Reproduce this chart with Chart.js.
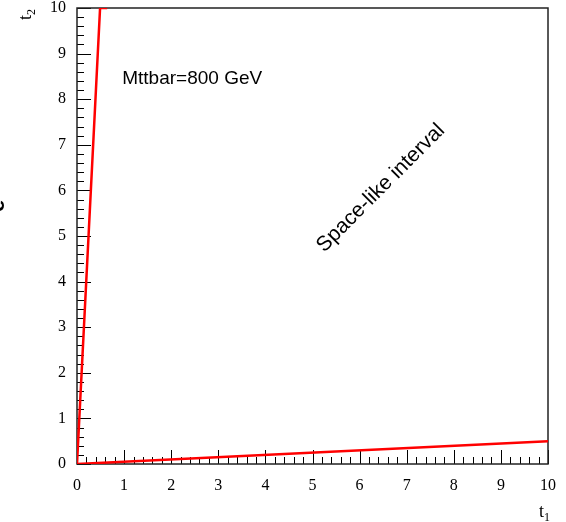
<!DOCTYPE html>
<html>
<head>
<meta charset="utf-8">
<script src="https://cdn.jsdelivr.net/npm/chart.js@4/dist/chart.umd.min.js"></script>
<style>
  html, body { margin: 0; padding: 0; background: #fff; }
  #wrap { width: 566px; height: 522px; }
</style>
</head>
<body>
<div id="wrap"><canvas id="c" width="566" height="522"></canvas></div>
<script>
// Axis range and tick spacing
const axisMin = 0;
const axisMax = 10;
const majorStep = 1;
const minorStep = 0.2;

// Steep boundary line (clamped at the top of the frame)
const steepT1 = [0, 0.49, 0.64];
const steepT2 = [0, 10, 10];

// Shallow boundary line
const shallowT1 = [0, 10];
const shallowT2 = [0, 0.5];

const toPoints = (xs, ys) => xs.map((v, i) => ({ x: v, y: ys[i] }));

const serif = '"Liberation Serif", "DejaVu Serif", serif';
const sans = '"Liberation Sans", Arial, sans-serif';

// Inward major/minor ticks plus the frame box
const frameTicks = {
  id: 'frameTicks',
  beforeDatasetsDraw(chart) {
    const { ctx, chartArea: a, scales: { x, y } } = chart;
    ctx.save();
    ctx.strokeStyle = '#000';
    ctx.lineWidth = 1;
    const n = Math.round((axisMax - axisMin) / minorStep);
    const per = Math.round(majorStep / minorStep);
    for (let i = 0; i <= n; i++) {
      const v = axisMin + i * minorStep;
      const len = (i % per === 0) ? 14 : 7;
      const px = Math.round(x.getPixelForValue(v)) + 0.5;
      ctx.beginPath(); ctx.moveTo(px, a.bottom); ctx.lineTo(px, a.bottom - len); ctx.stroke();
      const py = Math.round(y.getPixelForValue(v)) + 0.5;
      ctx.beginPath(); ctx.moveTo(a.left, py); ctx.lineTo(a.left + len, py); ctx.stroke();
    }
    ctx.lineWidth = 1.5;
    ctx.strokeStyle = '#222';
    ctx.strokeRect(a.left, a.top, a.right - a.left, a.bottom - a.top);
    ctx.restore();
  }
};

// Axis titles with subscripts and the text notes inside the frame
const labelsPlugin = {
  id: 'labelsPlugin',
  afterDraw(chart) {
    const { ctx, chartArea: a, scales: { x, y } } = chart;
    ctx.save();
    ctx.fillStyle = '#000';

    // x title: t1 at the right end of the axis
    ctx.font = '18px ' + serif;
    ctx.textBaseline = 'alphabetic';
    ctx.textAlign = 'left';
    const tW = ctx.measureText('t').width;
    ctx.fillText('t', a.right - 9, 517);
    ctx.font = '12px ' + serif;
    ctx.fillText('1', a.right - 9 + tW, 521);

    // y title: t2 at the top end of the axis, rotated
    ctx.save();
    ctx.translate(31, 20);
    ctx.rotate(-Math.PI / 2);
    ctx.font = '18px ' + serif;
    ctx.fillText('t', 0, 0);
    ctx.font = '12px ' + serif;
    ctx.fillText('2', tW, 4);
    ctx.restore();

    // clipped glyph at the far left edge
    ctx.save();
    ctx.translate(4, 206);
    ctx.rotate(-Math.PI / 2);
    ctx.font = 'bold 22px ' + sans;
    ctx.textAlign = 'center';
    ctx.fillText('e', 0, 0);
    ctx.restore();

    // notes
    ctx.font = '19px ' + sans;
    ctx.textAlign = 'left';
    ctx.textBaseline = 'alphabetic';
    ctx.fillText('Mttbar=800 GeV', x.getPixelForValue(0.96), y.getPixelForValue(8.33));

    ctx.save();
    ctx.font = '21px ' + sans;
    ctx.translate(x.getPixelForValue(6.45), y.getPixelForValue(6.05));
    ctx.rotate(-Math.PI / 4);
    ctx.textAlign = 'center';
    ctx.textBaseline = 'middle';
    ctx.fillText('Space-like interval', 0, 0);
    ctx.restore();

    ctx.restore();
  }
};

const tickFont = { family: serif, size: 16, lineHeight: 1 };

new Chart(document.getElementById('c'), {
  type: 'scatter',
  data: {
    datasets: [
      {
        data: toPoints(steepT1, steepT2),
        showLine: true,
        borderColor: '#ff0000',
        borderWidth: 2.5,
        pointRadius: 0,
        tension: 0
      },
      {
        data: toPoints(shallowT1, shallowT2),
        showLine: true,
        borderColor: '#ff0000',
        borderWidth: 2.5,
        pointRadius: 0,
        tension: 0
      }
    ]
  },
  options: {
    responsive: false,
    animation: false,
    devicePixelRatio: 1,
    layout: { padding: { top: 8, right: 18, left: 0, bottom: 0 } },
    plugins: { legend: { display: false }, tooltip: { enabled: false } },
    scales: {
      x: {
        type: 'linear',
        min: axisMin,
        max: axisMax,
        grid: { display: false, drawTicks: false },
        border: { display: false },
        ticks: { stepSize: majorStep, color: '#000', font: tickFont, padding: 14, maxRotation: 0 },
        afterFit(s) { s.height = 58; s.paddingLeft = 0; s.paddingRight = 0; }
      },
      y: {
        type: 'linear',
        min: axisMin,
        max: axisMax,
        grid: { display: false, drawTicks: false },
        border: { display: false },
        ticks: { stepSize: majorStep, color: '#000', font: tickFont, padding: 11 },
        afterFit(s) { s.width = 77; s.paddingTop = 0; s.paddingBottom = 0; }
      }
    }
  },
  plugins: [frameTicks, labelsPlugin]
});
</script>
</body>
</html>
